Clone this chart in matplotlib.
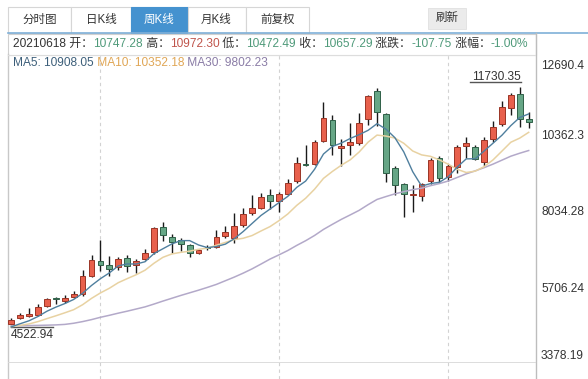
import matplotlib
matplotlib.use('Agg')
import matplotlib.pyplot as plt
from matplotlib.patches import Rectangle

plt.rcParams['font.family'] = ['Liberation Sans', 'Noto Sans CJK SC', 'DejaVu Sans']

# weekly candles (last week = 20210618)
opens = [4545, 4725, 4805, 4830, 5100, 5330, 5265, 5365, 5455, 6005,
         6460, 6340, 6270, 6550, 6330, 6520, 6720, 7500, 7195, 7095,
         6935, 6705, 6860, 6895, 7215, 7160, 7550, 7905, 8065, 8455,
         8285, 8485, 8880, 9375, 9395, 10090, 10725, 9880, 9970, 10020,
         10755, 11610, 10895, 9260, 8790, 8445, 8425, 8890, 9585, 9010,
         9315, 9950, 9920, 9465, 10140, 10605, 11095, 11510, 10747.28]
highs = [4740, 4890, 5040, 5150, 5350, 5380, 5430, 5560, 6190, 6640,
         7095, 6620, 6575, 6640, 6510, 6820, 7500, 7650, 7280, 7165,
         6975, 6815, 6935, 7400, 7530, 7900, 8055, 8455, 8525, 8640,
         8555, 8930, 9615, 9970, 10120, 11280, 10875, 10140, 10625, 10925,
         11480, 11700, 10925, 9335, 8830, 8760, 8830, 9565, 9635, 9385,
         9970, 10200, 9970, 10200, 10705, 11305, 11530, 11730.35, 10972.30]
lows = [4522.94, 4700, 4780, 4800, 5080, 5160, 5185, 5335, 5415, 5970,
        6160, 6010, 6200, 6135, 6090, 6490, 6670, 7075, 6695, 6775,
        6575, 6675, 6795, 6865, 7145, 7015, 7500, 7850, 8025, 8025,
        7955, 8455, 8830, 9335, 9355, 10070, 9665, 9335, 9665, 9970,
        10575, 10545, 8860, 8455, 7780, 7955, 8285, 8790, 8860, 8880,
        9110, 9565, 9515, 9335, 10070, 10545, 10875, 10500, 10472.49]
closes = [4690, 4815, 4830, 5080, 5300, 5310, 5350, 5455, 6005, 6490,
          6340, 6220, 6520, 6300, 6470, 6690, 7450, 7250, 7025, 6975,
          6695, 6785, 6850, 7195, 7330, 7520, 7870, 8075, 8405, 8285,
          8485, 8830, 9435, 9355, 10070, 10795, 9970, 9950, 10050, 10645,
          11450, 10975, 9130, 8760, 8485, 8465, 8790, 9515, 8960, 9335,
          9920, 10020, 9535, 10120, 10520, 11125, 11480, 10765.04, 10657.29]

ma5 = [4470, 4565, 4655, 4785, 4943, 5067, 5174, 5299, 5484, 5722,
       5928, 6102, 6315, 6374, 6370, 6440, 6686, 6832, 6977, 7078,
       7079, 6946, 6866, 6900, 6971, 7136, 7353, 7598, 7840, 8031,
       8224, 8416, 8688, 8878, 9235, 9697, 9925, 10028, 10167, 10282,
       10413, 10614, 10450, 10192, 9760, 9163, 8726, 8803, 8843, 9013,
       9304, 9550, 9554, 9786, 10023, 10264, 10556, 10802, 10908.05]
ma10 = [4475, 4515, 4560, 4630, 4720, 4805, 4895, 4990, 5140, 5332,
        5497, 5638, 5807, 5929, 6046, 6184, 6394, 6573, 6675, 6724,
        6759, 6816, 6849, 6938, 7024, 7107, 7149, 7232, 7370, 7501,
        7680, 7884, 8143, 8359, 8633, 8960, 9170, 9358, 9522, 9758,
        10055, 10269, 10239, 10179, 10021, 9788, 9670, 9626, 9517, 9386,
        9233, 9138, 9178, 9314, 9518, 9784, 10053, 10178, 10352.18]
ma30 = [4500, 4505, 4510, 4515, 4522, 4530, 4545, 4580, 4630, 4690,
        4760, 4820, 4885, 4945, 5010, 5075, 5160, 5250, 5335, 5420,
        5500, 5580, 5665, 5755, 5865, 5975, 6095, 6225, 6370, 6519,
        6646, 6779, 6933, 7075, 7234, 7417, 7571, 7721, 7856, 7994,
        8165, 8323, 8410, 8492, 8559, 8619, 8663, 8739, 8803, 8882,
        8989, 9097, 9187, 9284, 9391, 9511, 9631, 9721, 9802.23]

grid_idx = [10, 30, 49]
y_ticks = [3378.19, 5706.24, 8034.28, 10362.3, 12690.4]
tabs = ['分时图', '日K线', '周K线', '月K线', '前复权']
active_tab = 2
info_date = '20210618'
chg = '-107.75'
pct = '-1.00%'

UP, UP_EDGE = '#e8604c', '#9a3526'
DN, DN_EDGE = '#66a686', '#2f6048'
GREEN_TXT, RED_TXT, DARK = '#4f9a7a', '#c0554c', '#333333'
BLUE_TAB = '#4592cf'

W, H = 588, 379
fig = plt.figure(figsize=(W / 100, H / 100), dpi=100)

# overlay in pixel coordinates for the frame, tabs and header rows
ov = fig.add_axes([0, 0, 1, 1])
ov.set_xlim(0, W)
ov.set_ylim(H, 0)
ov.axis('off')

tab_edges = [7.5, 71, 131, 187.5, 245.5, 309]
for k, name in enumerate(tabs):
    x0, x1 = tab_edges[k], tab_edges[k + 1]
    active = k == active_tab
    ov.add_patch(Rectangle((x0, 7), x1 - x0, 26, facecolor=BLUE_TAB if active else 'white',
                           edgecolor=BLUE_TAB if active else '#d6d6d6', lw=0.8))
    ov.text((x0 + x1) / 2, 20, name, ha='center', va='center', fontsize=8.3,
            color='white' if active else DARK)

ov.add_patch(Rectangle((428, 8), 38, 21, facecolor='#ebebeb', edgecolor='#e0e0e0', lw=0.6))
ov.text(447, 18.5, '刷新', ha='center', va='center', fontsize=8.3, color=DARK)

# info row box
ov.add_patch(Rectangle((7.5, 33.5), 528.5, 21, facecolor='white', edgecolor='#d0d0d0', lw=0.8))
ov.plot([7.5, W], [33, 33], color='#7fb0d8', lw=1.2)
ov.plot([7.5, 7.5], [54, H], color='#c8c8c8', lw=1)
ov.plot([536, 536], [33, H], color='#bdbdbd', lw=1)

renderer = fig.canvas.get_renderer()


def seq_text(x, y, parts, size=8.6):
    for s, col in parts:
        t = ov.text(x, y, s, color=col, fontsize=size, ha='left', va='center')
        x += t.get_window_extent(renderer=renderer).width


seq_text(13, 44, [
    (info_date + ' 开：', DARK), ('%.2f' % opens[-1], GREEN_TXT),
    (' 高：', DARK), ('%.2f' % highs[-1], RED_TXT),
    (' 低：', DARK), ('%.2f' % lows[-1], GREEN_TXT),
    (' 收：', DARK), ('%.2f' % closes[-1], GREEN_TXT),
    (' 涨跌：', DARK), (chg, GREEN_TXT),
    (' 涨幅：', DARK), (pct, GREEN_TXT),
])

seq_text(13, 63, [
    ('MA5: %.2f' % ma5[-1], '#3d5f7a'),
    (' MA10: %.2f' % ma10[-1], '#e0a655'),
    (' MA30: %.2f' % ma30[-1], '#8a7ca6'),
])

# main candle area
ax = fig.add_axes([8 / W, 16 / H, 528 / W, 308 / H])
ax.set_xlim(-0.36, 58.82)
ax.set_ylim(y_ticks[0], y_ticks[-1])
ax.axis('off')

for g in grid_idx:
    ax.axvline(g, ymin=-16 / 308, ymax=1, color='#d2d2d2', lw=0.8, ls=(0, (3, 3)), clip_on=False)
ax.axhline(y_ticks[-1], color='#dddddd', lw=0.8)
ax.axhline(y_ticks[0], color='#d9d9d9', lw=2)

n = len(closes)
w = 0.64
min_h = 45
for i in range(n):
    o, h, l, c = opens[i], highs[i], lows[i], closes[i]
    up = c >= o
    ax.vlines(i, l, h, color='#1a1a1a', lw=1, zorder=2)
    ax.add_patch(Rectangle((i - w / 2, min(o, c)), w, max(abs(c - o), min_h),
                           facecolor=UP if up else DN, edgecolor=UP_EDGE if up else DN_EDGE,
                           lw=0.7, zorder=3))

xs = list(range(n))
ax.plot(xs, ma30, color='#b3a9c9', lw=1.1, zorder=4)
ax.plot(xs, ma10, color='#e8d2a2', lw=1.1, zorder=4)
ax.plot(xs, ma5, color='#4f7f9e', lw=1.0, zorder=5)


def to_px(x, y):
    px, py = ax.transData.transform((x, y))
    return px, H - py


# right price labels (pixel shift from the tick level)
shifts = [-7, 3, 3, 3.5, 11]
for v, dy in zip(y_ticks, shifts):
    lab = ('%.2f' % v) if v < 10000 else ('%.1f' % v)
    _, py = to_px(0, v)
    ov.text(541, py + dy, lab, ha='left', va='center', fontsize=8.6, color=DARK)

# extreme markers
i_max = highs.index(max(highs))
i_min = lows.index(min(lows))
mx, my = to_px(i_max, highs[i_max])
ov.plot([mx - 50, mx + 1], [my - 5, my - 5], color='#555555', lw=1)
ov.text(mx + 1, my - 7, '%.2f' % highs[i_max], ha='right', va='baseline', fontsize=8.6, color=DARK)
nx, ny = to_px(i_min, lows[i_min])
ov.plot([nx, nx + 42], [ny + 2, ny + 2], color='#555555', lw=1)
ov.text(nx, ny + 4, '%.2f' % lows[i_min], ha='left', va='top', fontsize=8.6, color=DARK)

fig.savefig('out.png', dpi=100, facecolor='white')
